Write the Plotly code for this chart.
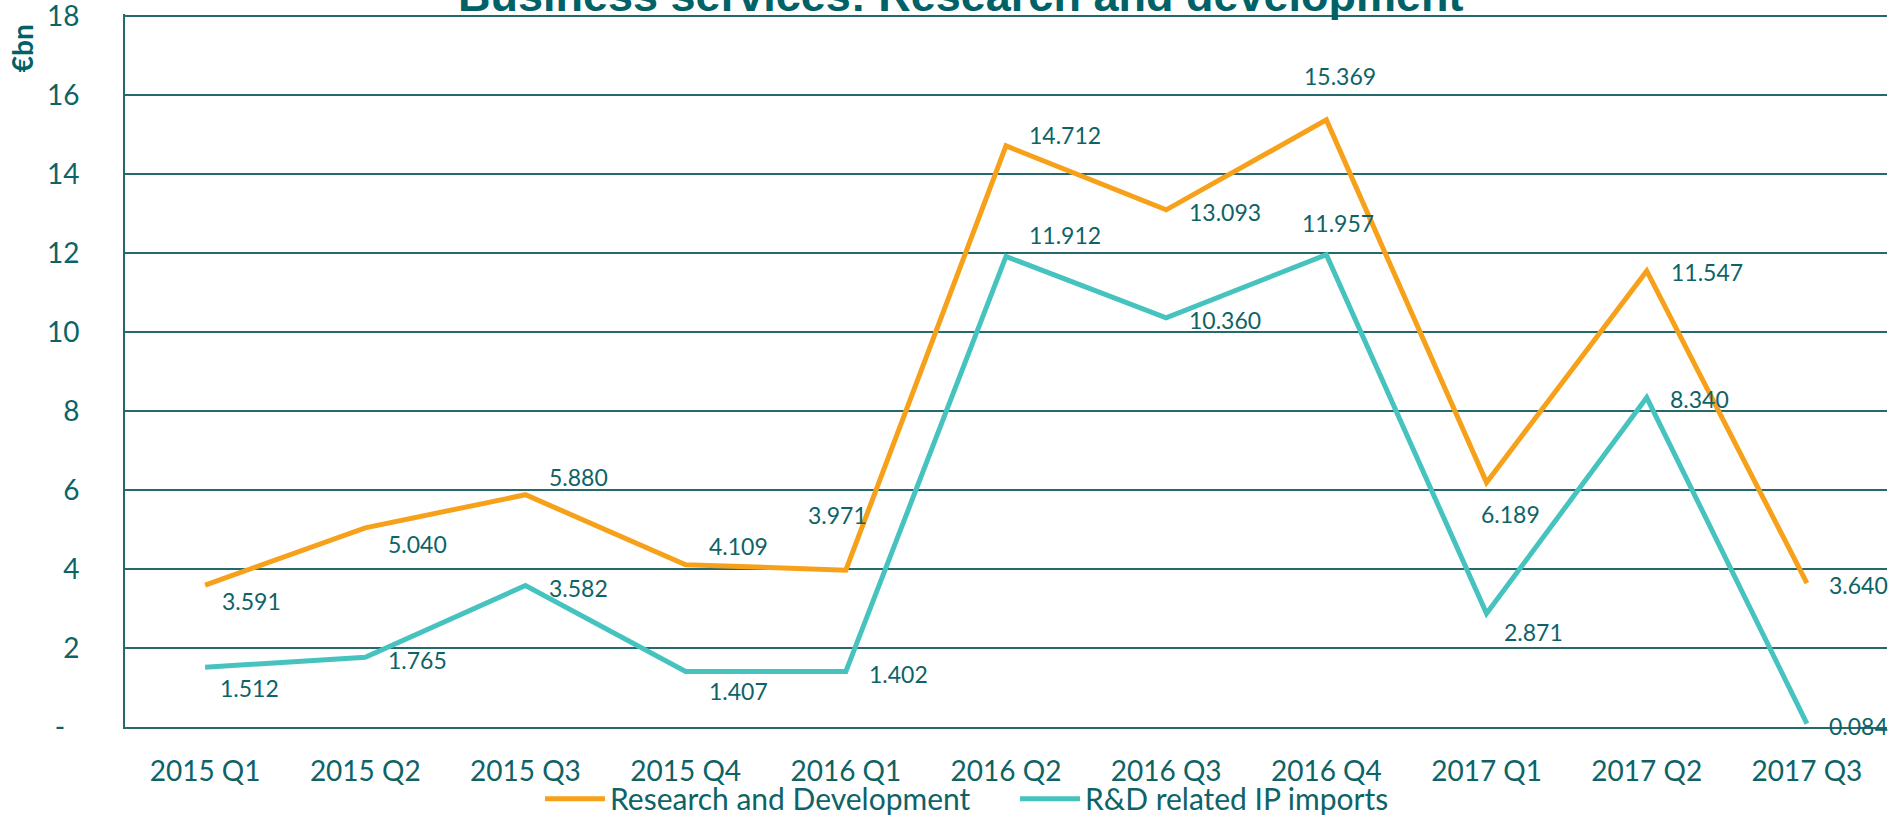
import plotly.graph_objects as go

# ---- data ----
quarters = ["2015 Q1", "2015 Q2", "2015 Q3", "2015 Q4", "2016 Q1", "2016 Q2",
            "2016 Q3", "2016 Q4", "2017 Q1", "2017 Q2", "2017 Q3"]
rd_values = [3.591, 5.040, 5.880, 4.109, 3.971, 14.712, 13.093, 15.369, 6.189, 11.547, 3.640]
ip_values = [1.512, 1.765, 3.582, 1.407, 1.402, 11.912, 10.360, 11.957, 2.871, 8.340, 0.084]
y_tick_values = [0, 2, 4, 6, 8, 10, 12, 14, 16, 18]
y_tick_labels = ["-\u00a0\u00a0", "2", "4", "6", "8", "10", "12", "14", "16", "18"]

series_names = ["Research and Development", "R&D related IP imports"]
title_text = "Business services: Research and development"
unit_text = "€bn"

# ---- style / layout ----
ORANGE = "#F7A11A"
TEAL = "#47C3BF"
TXT = "#0D6367"
GRID = "#26696D"
FONT = "Lato, 'Open Sans', sans-serif"

# label offsets in pixels (dx right, dy down) for data labels
rd_label_dx = [46, 52, 53, 53, -8, 59, 59, 14, 24, 60, 52]
rd_label_dy = [16, 16, -18, -19, -55, -11, 2, -44, 31, 1, 2]
ip_label_dx = [44, 52, 53, 53, 53, 59, 59, 12, 47, 53, 52]
ip_label_dy = [21, 3, 2, 20, 2, -21, 2, -32, 18, 1, 2]

fig = go.Figure()
fig.add_trace(go.Scatter(x=quarters, y=rd_values, mode="lines", name=series_names[0],
                         line=dict(color=ORANGE, width=5)))
fig.add_trace(go.Scatter(x=quarters, y=ip_values, mode="lines", name=series_names[1],
                         line=dict(color=TEAL, width=5)))

annotations = []
for vals, dxs, dys in ((rd_values, rd_label_dx, rd_label_dy), (ip_values, ip_label_dx, ip_label_dy)):
    for q, v, dx, dy in zip(quarters, vals, dxs, dys):
        annotations.append(dict(x=q, y=v, xref="x", yref="y", text=f"{v:.3f}",
                                showarrow=False, xanchor="center", yanchor="middle",
                                xshift=dx, yshift=-dy,
                                font=dict(family=FONT, size=23, color=TXT)))

annotations.append(dict(x=0.474, y=1, xref="paper", yref="paper", text=title_text,
                        showarrow=False, xanchor="center", yanchor="bottom", yshift=-9,
                        font=dict(family="'Liberation Sans', Arial, sans-serif",
                                  size=45, color="#006166", weight="bold")))
annotations.append(dict(x=-0.0585, y=0.952, xref="paper", yref="paper", text=unit_text,
                        showarrow=False, xanchor="center", yanchor="middle", textangle=-90,
                        font=dict(family=FONT, size=28, color="#006166", weight="bold")))

fig.update_layout(
    width=1897, height=815,
    margin=dict(l=125, r=10, t=14, b=88, autoexpand=False),
    paper_bgcolor="white", plot_bgcolor="white",
    showlegend=True,
    legend=dict(orientation="h", x=(540 - 125) / 1762, xanchor="left",
                y=-0.064, yanchor="top",
                font=dict(family=FONT, size=30, color=TXT),
                itemwidth=60,
                entrywidth=400, entrywidthmode="pixels",
                bgcolor="rgba(0,0,0,0)"),
    annotations=annotations,
    xaxis=dict(type="category", range=[-0.5, len(quarters) - 0.5],
               showgrid=False, showline=True, linecolor=GRID, linewidth=2,
               ticks="", tickfont=dict(family=FONT, size=28, color=TXT),
               ticklabelstandoff=18, zeroline=False, automargin=False),
    yaxis=dict(range=[0, 18.05], tickvals=y_tick_values, ticktext=y_tick_labels,
               showgrid=True, gridcolor=GRID, gridwidth=2,
               showline=True, linecolor=GRID, linewidth=2, zeroline=False,
               ticks="", tickfont=dict(family=FONT, size=28, color=TXT),
               ticklabelstandoff=38, ticklabeloverflow="allow", automargin=False),
)

fig.write_html("out.html", config={"displayModeBar": False},
               post_script="document.body.style.margin='0px';document.body.style.overflow='hidden';")
